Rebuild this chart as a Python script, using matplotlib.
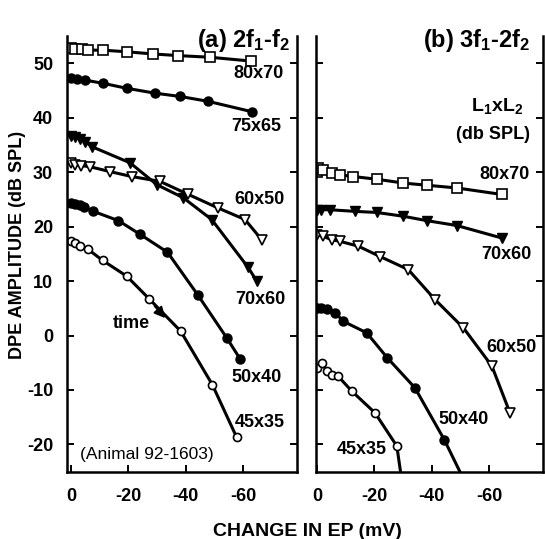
import matplotlib
matplotlib.use('Agg')
import matplotlib.pyplot as plt

plt.rcParams['font.family'] = ['Liberation Sans', 'DejaVu Sans']
plt.rcParams['font.weight'] = 'bold'
plt.rcParams['mathtext.default'] = 'regular'
plt.rcParams['axes.unicode_minus'] = False

# ---- panel (a): 2f1-f2, change in EP (mV) vs DPE amplitude (dB SPL)
a_80x70_x = [0, -1.4, -3.7, -6, -11.3, -19.4, -28.7, -37.4, -48.4, -62.6]
a_80x70_y = [52.8, 52.6, 52.6, 52.4, 52.4, 52.1, 51.7, 51.4, 51.1, 50.4]
a_75x65_x = [0, -2, -4.9, -11.3, -19.4, -29.3, -38, -47.8, -63]
a_75x65_y = [47.3, 47.1, 46.9, 46.3, 45.4, 44.5, 43.9, 43.0, 41.1]
a_70x60_x = [0, -1.5, -3, -5, -7.2, -20.6, -29.9, -39.1, -49, -61.7, -64.7]
a_70x60_y = [36.6, 36.4, 36.1, 35.6, 34.7, 31.7, 27.7, 25.3, 21.3, 12.5, 10.0]
a_60x50_x = [0, -1.5, -3.5, -6.6, -13.6, -21.1, -31, -40.9, -51.3, -60.6, -66.4]
a_60x50_y = [31.6, 31.4, 31.2, 31.0, 30.1, 29.2, 28.3, 25.9, 23.4, 21.3, 17.6]
a_50x40_x = [0, -1.5, -3, -4.5, -7.8, -16.5, -24, -33.6, -44.1, -54.2, -58.9]
a_50x40_y = [24.3, 24.1, 23.9, 23.6, 22.8, 21.1, 18.6, 15.3, 7.5, -0.4, -4.3]
a_45x35_x = [0, -1.5, -3.1, -6, -11, -19.4, -27.3, -38.2, -49.2, -57.7]
a_45x35_y = [17.3, 17.0, 16.5, 15.8, 13.8, 10.9, 6.7, 0.8, -9.0, -18.7]

# ---- panel (b): 3f1-2f2
b_80x70_x = [0, -0.5, -2.2, -5.1, -8, -12.6, -20.8, -30.1, -38.2, -48.7, -64.4]
b_80x70_y = [30.1, 30.8, 30.4, 29.8, 29.5, 29.2, 28.7, 28.0, 27.6, 27.1, 25.9]
b_70x60_x = [0, -1.5, -4.5, -13.2, -20.8, -30.1, -38.2, -48.7, -64.4]
b_70x60_y = [23.1, 23.1, 23.1, 22.8, 22.6, 21.9, 21.1, 20.2, 17.9]
b_60x50_x = [0, -2.2, -5.1, -8, -14.4, -22, -31.8, -41.1, -51, -60.9, -67.2]
b_60x50_y = [18.5, 18.2, 17.6, 17.3, 16.4, 14.5, 12.1, 6.6, 1.4, -5.6, -14.2]
b_50x40_x = [0, -1.5, -3.4, -6.3, -9.2, -17.3, -24.5, -34.1, -44.3, -53]
b_50x40_y = [5.1, 5.0, 4.8, 4.2, 2.6, 0.5, -4.1, -9.6, -19.1, -28.5]
b_45x35_x = [0, -1.6, -3.4, -5.1, -7.4, -12.1, -20.2, -27.8, -31]
b_45x35_y = [-5.9, -5.0, -6.5, -7.2, -7.5, -10.2, -14.2, -20.3, -32]

yticks = [-20, -10, 0, 10, 20, 30, 40, 50]
xticks = [0, -20, -40, -60]

fig = plt.figure(figsize=(5.45, 5.39), dpi=100)
ax1 = fig.add_axes([0.1229, 0.1249, 0.4220, 0.8083])
ax2 = fig.add_axes([0.5798, 0.1249, 0.4165, 0.8083])

open_sq = dict(marker='s', mfc='white', mec='black', mew=1.2, ms=6.5)
fill_ci = dict(marker='o', mfc='black', mec='black', ms=6.5)
open_ci = dict(marker='o', mfc='white', mec='black', mew=1.2, ms=5.8)
fill_tr = dict(marker='v', mfc='black', mec='black', ms=7.5)
open_tr = dict(marker='v', mfc='white', mec='black', mew=1.2, ms=7)
line = dict(color='black', lw=2.2, clip_on=True)

ax1.plot(a_80x70_x, a_80x70_y, **line, **open_sq)
ax1.plot(a_75x65_x, a_75x65_y, **line, **fill_ci)
ax1.plot(a_70x60_x, a_70x60_y, **line, **fill_tr)
ax1.plot(a_60x50_x, a_60x50_y, **line, **open_tr)
ax1.plot(a_50x40_x, a_50x40_y, **line, **fill_ci)
ax1.plot(a_45x35_x, a_45x35_y, **line, **open_ci)

ax2.plot(b_80x70_x, b_80x70_y, **line, **open_sq)
ax2.plot(b_70x60_x, b_70x60_y, **line, **fill_tr)
ax2.plot(b_60x50_x, b_60x50_y, **line, **open_tr)
ax2.plot(b_50x40_x, b_50x40_y, **line, **fill_ci)
ax2.plot(b_45x35_x, b_45x35_y, **line, **open_ci)

for ax in (ax1, ax2):
    ax.set_xlim(1.4, -78.7)
    ax.set_ylim(-25, 55)
    ax.set_xticks(xticks)
    ax.set_yticks(yticks)
    ax.spines['top'].set_visible(False)
    for s in ('left', 'right', 'bottom'):
        ax.spines[s].set_linewidth(1.8)
    ax.tick_params(direction='in', length=5, width=1.4, right=True,
                   labelsize=13, pad=12)
ax1.tick_params(axis='y', pad=10)
ax2.set_xlim(0.35, -78.7)
ax2.tick_params(labelleft=False)

fs = 13
# panel (a) labels
ax1.text(-76.3, 53.0, '(a) 2f$_1$-f$_2$', fontsize=17, ha='right', va='baseline')
for t, x, y in [('80x70', -65.2, 48.2), ('75x65', -64.5, 38.3), ('60x50', -65.5, 24.9),
                ('70x60', -65.9, 6.6), ('50x40', -64.8, -7.7), ('45x35', -65.9, -16.0)]:
    ax1.text(x, y, t, fontsize=fs, ha='center', va='center')
ax1.text(-21.1, 2.3, 'time', fontsize=fs, ha='center', va='center')
ax1.annotate('', xy=(-33.5, 2.8), xytext=(-28.5, 5.8),
             arrowprops=dict(arrowstyle='-|>', color='black', lw=1.5, mutation_scale=16))
ax1.text(-3.3, -21.9, '(Animal 92-1603)', fontsize=12.5, fontweight='normal',
         ha='left', va='center')

# panel (b) labels
ax2.text(-74.2, 53.0, '(b) 3f$_1$-2f$_2$', fontsize=17, ha='right', va='baseline')
ax2.text(-71.8, 42.2, 'L$_1$xL$_2$', fontsize=fs + 1, ha='right', va='center')
ax2.text(-74.2, 37.0, '(db SPL)', fontsize=fs, ha='right', va='center')
for t, x, y in [('80x70', -65.2, 29.5), ('70x60', -65.9, 14.9), ('60x50', -67.6, -2.2),
                ('50x40', -51.2, -15.4), ('45x35', -15.7, -20.9)]:
    ax2.text(x, y, t, fontsize=fs, ha='center', va='center')

fig.text(18 / 545, 1 - 245 / 539, 'DPE AMPLITUDE (dB SPL)', rotation=90,
         fontsize=13, ha='center', va='center')
fig.text(307 / 545, 1 - 531 / 539, 'CHANGE IN EP (mV)', fontsize=14,
         ha='center', va='center')

fig.savefig('out.png', dpi=100)
